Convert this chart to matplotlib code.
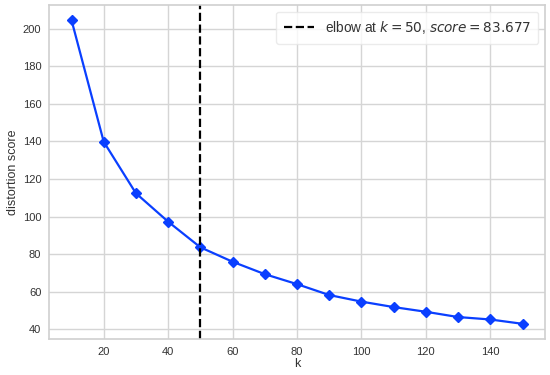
import numpy as np
import matplotlib
matplotlib.use("Agg")
import matplotlib.pyplot as plt
import seaborn as sns

sns.set_style("whitegrid")
plt.rcParams['font.family'] = ['Liberation Sans', 'DejaVu Sans']

k_values = [10, 20, 30, 40, 50, 60, 70, 80, 90, 100, 110, 120, 130, 140, 150]
scores = [204.5, 139.8, 112.4, 97.3, 83.677, 76.0, 69.4, 64.1, 58.3, 54.8,
          51.9, 49.4, 46.6, 45.3, 43.0]
elbow_k = 50
elbow_score = 83.677

fig = plt.figure(figsize=(5.5, 3.75), dpi=100)
ax = fig.add_axes([0.089, 0.096, 0.902, 0.891])

ax.plot(k_values, scores, marker="D", color="#0a3fff", lw=1.6, markersize=5)
ax.axvline(elbow_k, c="black", ls="--", lw=1.6,
           label="elbow at $k = {}$, $score = {:0.3f}$".format(elbow_k, elbow_score))

ax.set_xticks([20, 40, 60, 80, 100, 120, 140])
ax.set_yticks([40, 60, 80, 100, 120, 140, 160, 180, 200])
ax.tick_params(labelsize=8, colors="#333333", pad=2)
ax.set_xlabel("k", fontsize=9, color="#333333", labelpad=1)
ax.set_ylabel("distortion score", fontsize=9, color="#333333", labelpad=3)
ax.grid(color="#d5d5d5", lw=1)
for s in ax.spines.values():
    s.set_color("#d0d0d0")
    s.set_linewidth(1.2)

leg = ax.legend(loc="upper right", frameon=True, fontsize=9.8,
                borderpad=0.55, handlelength=2.2)
leg.get_frame().set_edgecolor("#e6e6e6")
for t in leg.get_texts():
    t.set_color("#333333")

fig.savefig("out.png", dpi=100)
